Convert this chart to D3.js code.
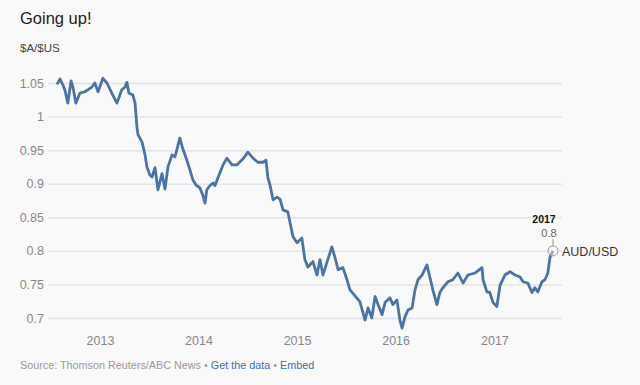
<!DOCTYPE html>
<html><head><meta charset="utf-8">
<script src="https://cdn.jsdelivr.net/npm/d3@7"></script>
<style>
html,body{margin:0;padding:0;background:#f9f9f9;}
svg{display:block;font-family:"Liberation Sans",Arial,sans-serif;}
</style></head>
<body><svg id="c" width="640" height="385"></svg>
<script>
const dates = ["2012-07-26","2012-08-06","2012-08-17","2012-08-24","2012-09-04","2012-09-16","2012-09-23","2012-10-04","2012-10-19","2012-11-06","2012-11-18","2012-12-02","2012-12-13","2012-12-25",
"2013-01-12","2013-01-27","2013-02-14","2013-03-05","2013-03-23","2013-04-04","2013-04-11","2013-04-18","2013-05-03","2013-05-11","2013-05-18","2013-05-22","2013-06-06","2013-06-17","2013-06-24","2013-07-05","2013-07-13","2013-07-24","2013-08-04","2013-08-19","2013-08-30","2013-09-10","2013-09-25","2013-10-06","2013-10-24","2013-11-04","2013-11-19","2013-11-30","2013-12-11","2013-12-23",
"2014-01-06","2014-01-17","2014-01-25","2014-02-01","2014-02-12","2014-02-24","2014-03-03","2014-03-14","2014-04-02","2014-04-16","2014-05-05","2014-05-23","2014-06-15","2014-07-03","2014-07-22","2014-08-09","2014-08-28","2014-09-08","2014-09-15","2014-09-23","2014-10-04","2014-10-19","2014-10-30","2014-11-10","2014-11-28","2014-12-17",
"2015-01-01","2015-01-19","2015-01-30","2015-02-10","2015-03-01","2015-03-16","2015-03-27","2015-04-07","2015-04-25","2015-05-10","2015-05-21","2015-06-02","2015-06-20","2015-07-05","2015-07-16","2015-08-04","2015-08-22","2015-09-10","2015-09-21","2015-10-05","2015-10-17","2015-10-28","2015-11-12","2015-11-23","2015-12-11","2015-12-22",
"2016-01-06","2016-01-17","2016-01-25","2016-02-05","2016-02-16","2016-03-02","2016-03-13","2016-03-24","2016-04-08","2016-04-26","2016-05-07","2016-05-18","2016-06-02","2016-06-13","2016-06-24","2016-07-13","2016-07-31","2016-08-19","2016-09-07","2016-09-25","2016-10-21","2016-11-16","2016-11-20","2016-12-04","2016-12-15","2016-12-27",
"2017-01-10","2017-01-22","2017-02-09","2017-02-28","2017-03-18","2017-04-06","2017-04-17","2017-05-05","2017-05-20","2017-05-31","2017-06-11","2017-06-26","2017-07-07","2017-07-18","2017-07-26","2017-08-06"];
const audusd = [1.048,1.056,1.047,1.040,1.020,1.053,1.044,1.020,1.035,1.037,1.040,1.044,1.050,1.037,
1.057,1.050,1.035,1.020,1.040,1.044,1.051,1.035,1.032,1.020,0.985,0.973,0.962,0.943,0.925,0.913,0.910,0.924,0.891,0.915,0.892,0.925,0.943,0.940,0.968,0.952,0.935,0.921,0.906,0.898,
0.894,0.883,0.871,0.891,0.897,0.901,0.897,0.909,0.928,0.938,0.928,0.928,0.937,0.947,0.938,0.932,0.932,0.935,0.909,0.898,0.876,0.880,0.877,0.861,0.858,0.821,
0.812,0.819,0.787,0.776,0.784,0.764,0.787,0.764,0.787,0.806,0.791,0.772,0.775,0.757,0.742,0.733,0.724,0.697,0.715,0.700,0.732,0.720,0.705,0.723,0.730,0.720,
0.727,0.697,0.685,0.702,0.712,0.715,0.742,0.757,0.764,0.779,0.761,0.742,0.720,0.738,0.745,0.754,0.757,0.767,0.752,0.764,0.767,0.775,0.757,0.739,0.738,0.723,
0.717,0.749,0.764,0.769,0.764,0.761,0.754,0.752,0.738,0.745,0.739,0.754,0.757,0.767,0.791,0.800];
const yTicks = [0.7,0.75,0.8,0.85,0.9,0.95,1,1.05];
const xTickYears = ["2013","2014","2015","2016","2017"];
const seriesName = "AUD/USD";

const parse = d3.timeParse("%Y-%m-%d");
const data = dates.map((d,i)=>({date:parse(d), v:audusd[i]}));
const svg = d3.select("#c");

const x = d3.scaleTime().domain(d3.extent(data,d=>d.date)).range([57,553]);
const y = d3.scaleLinear().domain([0.7,1.05]).range([318,83]);

// title
svg.append("text").attr("x",20).attr("y",24).attr("font-size",16.5).attr("fill","#222").text("Going up!");
svg.append("text").attr("x",20).attr("y",52).attr("font-size",11.5).attr("fill","#444").text("$A/$US");

// grid + y labels
const gy = svg.append("g").attr("transform","translate(48,0)")
  .call(d3.axisLeft(y).tickValues(yTicks).tickSize(-514).tickPadding(4).tickFormat(d3.format("")));
gy.select(".domain").remove();
gy.selectAll(".tick line").attr("stroke","#e4e4e4").attr("stroke-width",1.5);
gy.selectAll(".tick text").attr("fill","#888").attr("font-size",12.5).attr("font-family","Liberation Sans,Arial,sans-serif");

// x axis
const gx = svg.append("g").attr("transform","translate(0,326)")
  .call(d3.axisBottom(x).tickValues(xTickYears.map(s=>parse(s+"-01-01"))).tickSize(0).tickPadding(10).tickFormat(d3.timeFormat("%Y")));
gx.select(".domain").remove();
gx.selectAll(".tick text").attr("fill","#888").attr("font-size",12.5).attr("font-family","Liberation Sans,Arial,sans-serif");

// line
const line = d3.line().x(d=>x(d.date)).y(d=>y(d.v)).curve(d3.curveLinear);
svg.append("path").datum(data).attr("d",line).attr("fill","none")
  .attr("stroke","#4a74a8").attr("stroke-width",2.8).attr("stroke-linejoin","round");

// annotation
const last = data[data.length-1];
const lx = x(last.date), ly = y(last.v);
svg.append("line").attr("x1",lx).attr("x2",lx).attr("y1",ly-12).attr("y2",ly-5).attr("stroke","#999").attr("stroke-width",1);
svg.append("circle").attr("cx",lx).attr("cy",ly).attr("r",5).attr("fill","rgba(255,255,255,0.4)").attr("stroke","#999").attr("stroke-width",1);
svg.append("text").attr("x",lx-9).attr("y",ly-28).attr("text-anchor","middle").attr("font-size",10.5).attr("font-weight","bold").attr("fill","#111").text(d3.timeFormat("%Y")(last.date));
svg.append("text").attr("x",lx-4).attr("y",ly-14).attr("text-anchor","middle").attr("font-size",11).attr("fill","#666").text(d3.format("")(+last.v.toFixed(2)));
svg.append("text").attr("x",lx+9).attr("y",ly+5).attr("font-size",12.5).attr("fill","#333").text(seriesName);

// footer
const f = svg.append("text").attr("x",20).attr("y",369).attr("font-size",10.8);
f.append("tspan").attr("fill","#999").text("Source: Thomson Reuters/ABC News");
f.append("tspan").attr("fill","#999").text(" \u2022 ");
f.append("tspan").attr("fill","#3d6db5").text("Get the data");
f.append("tspan").attr("fill","#999").text(" \u2022 ");
f.append("tspan").attr("fill","#3d6db5").text("Embed");
</script></body></html>
